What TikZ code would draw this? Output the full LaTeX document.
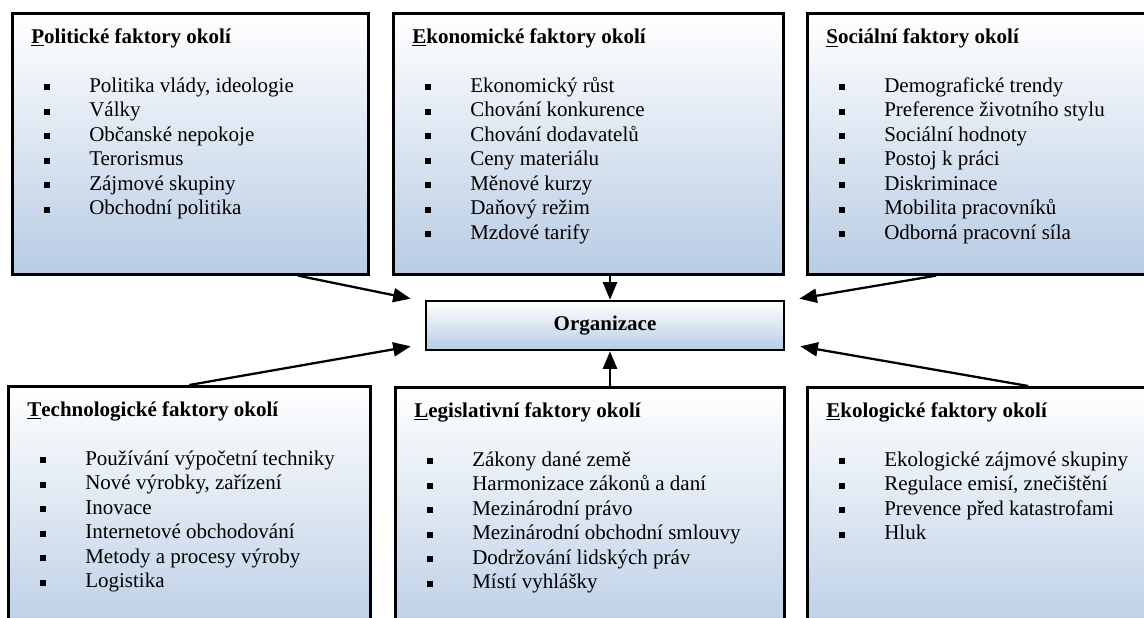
\documentclass[tikz,border=0pt]{standalone}
\usepackage{fontspec}
\setmainfont{Liberation Serif}
\usetikzlibrary{arrows.meta, calc, positioning}
\definecolor{okoli}{RGB}{184,204,228}
\newcommand{\px}{0.5714pt} % one pixel of the layout
\newcommand{\nadpis}[2]{\rule{0pt}{17.7pt}\textbf{\underline{#1}#2}\\[14pt]}
\newcommand{\bod}[1]{\makebox[33.1pt][l]{\hspace{7.1pt}\rule[1.3pt]{3.3pt}{3.3pt}}#1}
\tikzset{
    x=\px, y=-\px, % pixel coordinates, y going down
    faktor/.style={draw, line width=1.5pt, top color=white, bottom color=okoli, anchor=north west, inner sep=0pt}, % the boxes
    obsah/.style={anchor=north west, align=left, inner sep=0pt, font=\fontsize{12}{14}\selectfont}, % text in the boxes
    vazba/.style={-{Triangle[length=10pt, width=8pt]}, line width=1.3pt}, % arrows to the organisation
    }

\begin{document}
\begin{tikzpicture}
    \clip (0,0) rectangle (1144,618);
    \node[faktor, minimum width=356*\px, minimum height=261*\px] (pol) at (11,12) {};
    \node[faktor, minimum width=390*\px, minimum height=261*\px] (eko) at (392,12) {};
    \node[faktor, minimum width=350*\px, minimum height=261*\px] (soc) at (806,12) {};
    \node[faktor, minimum width=362*\px, minimum height=260*\px] (tech) at (7,385) {};
    \node[faktor, minimum width=389*\px, minimum height=260*\px] (leg) at (394,386) {};
    \node[faktor, minimum width=350*\px, minimum height=260*\px] (ekol) at (806,386) {};
    \node[faktor, anchor=center, minimum width=358*\px, minimum height=49*\px, font=\bfseries\fontsize{12}{14}\selectfont] (org) at (605,325.5) {Organizace};

    \node[obsah] (poltext) at ($(pol.north west)+(20,0)$) {\nadpis{P}{olitické faktory okolí}
        \bod{Politika vlády, ideologie}\\ \bod{Války}\\ \bod{Občanské nepokoje}\\
        \bod{Terorismus}\\ \bod{Zájmové skupiny}\\ \bod{Obchodní politika}};
    \node[obsah] (ekotext) at ($(eko.north west)+(20,0)$) {\nadpis{E}{konomické faktory okolí}
        \bod{Ekonomický růst}\\ \bod{Chování konkurence}\\ \bod{Chování dodavatelů}\\
        \bod{Ceny materiálu}\\ \bod{Měnové kurzy}\\ \bod{Daňový režim}\\ \bod{Mzdové tarify}};
    \node[obsah] (soctext) at ($(soc.north west)+(20,0)$) {\nadpis{S}{ociální faktory okolí}
        \bod{Demografické trendy}\\ \bod{Preference životního stylu}\\ \bod{Sociální hodnoty}\\
        \bod{Postoj k práci}\\ \bod{Diskriminace}\\ \bod{Mobilita pracovníků}\\ \bod{Odborná pracovní síla}};
    \node[obsah] (techtext) at ($(tech.north west)+(20,0)$) {\nadpis{T}{echnologické faktory okolí}
        \bod{Používání výpočetní techniky}\\ \bod{Nové výrobky, zařízení}\\ \bod{Inovace}\\
        \bod{Internetové obchodování}\\ \bod{Metody a procesy výroby}\\ \bod{Logistika}};
    \node[obsah] (legtext) at ($(leg.north west)+(20,0)$) {\nadpis{L}{egislativní faktory okolí}
        \bod{Zákony dané země}\\ \bod{Harmonizace zákonů a daní}\\ \bod{Mezinárodní právo}\\
        \bod{Mezinárodní obchodní smlouvy}\\ \bod{Dodržování lidských práv}\\ \bod{Místí vyhlášky}};
    \node[obsah] (ekoltext) at ($(ekol.north west)+(20,0)$) {\nadpis{E}{kologické faktory okolí}
        \bod{Ekologické zájmové skupiny}\\ \bod{Regulace emisí, znečištění}\\
        \bod{Prevence před katastrofami}\\ \bod{Hluk}};

    \coordinate (ekocil) at ($(org.north)+(5,0)$);
    \coordinate (legcil) at ($(org.south)+(5,0)$);
    \draw[vazba] ($(pol.south west)!0.8!(pol.south east)$) -- ($(org.north west)+(-14,-1)$);
    \draw[vazba] (eko.south -| ekocil) -- (ekocil);
    \draw[vazba] ($(soc.south west)!0.369!(soc.south east)$) -- ($(org.north east)+(14,-1)$);
    \draw[vazba] (tech.north) -- ($(org.south west)+(-14,-5)$);
    \draw[vazba] (leg.north -| legcil) -- (legcil);
    \draw[vazba] ($(ekol.north west)!0.63!(ekol.north east)$) -- ($(org.south east)+(15,-5)$);
\end{tikzpicture}
\end{document}
